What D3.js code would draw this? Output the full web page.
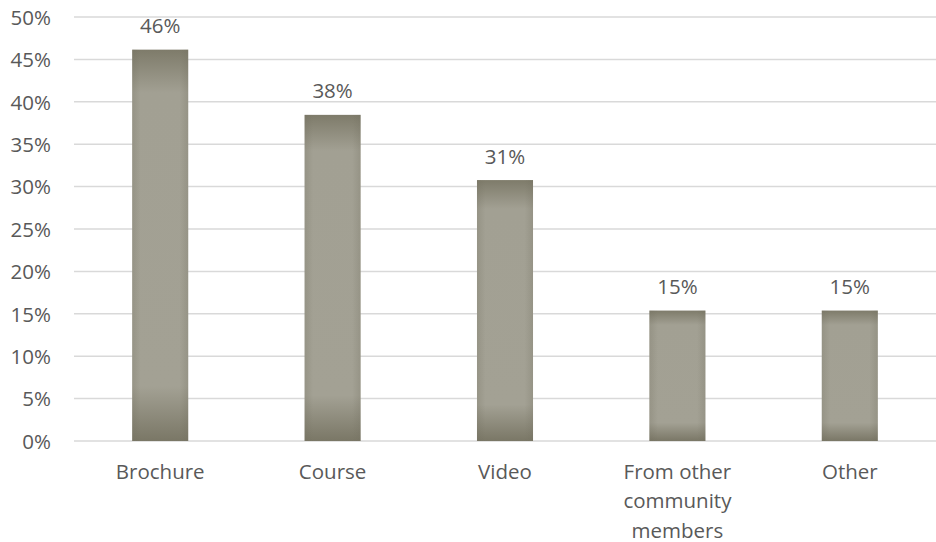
<!DOCTYPE html>
<html>
<head>
<meta charset="utf-8">
<script src="https://cdn.jsdelivr.net/npm/d3@7"></script>
<style>
  body { margin: 0; background: #fff; }
  text { font-family: "Open Sans", sans-serif; fill: #595959; }
</style>
</head>
<body>
<div id="chart"></div>
<script>
  // chart data
  var categories = ['Brochure', 'Course', 'Video', 'From other community members', 'Other'];
  var values = [46.15, 38.46, 30.77, 15.38, 15.38];
  var yTicks = [0, 5, 10, 15, 20, 25, 30, 35, 40, 45, 50];

  var w = 936,
    h = 542,
    fs = '20.5px',
    margin = { top: 17, right: 0, bottom: 101, left: 74 };

  var svg = d3.select('#chart')
    .append('svg')
    .attr('width', w)
    .attr('height', h);

  // bar fill: darker towards top and bottom edges
  var defs = svg.append('defs');
  var grad = defs.append('linearGradient')
    .attr('id', 'barGrad')
    .attr('x1', 0).attr('y1', 0).attr('x2', 0).attr('y2', 1);
  grad.append('stop').attr('offset', '0%').attr('stop-color', '#7e7b6a');
  grad.append('stop').attr('offset', '11%').attr('stop-color', '#a2a093');
  grad.append('stop').attr('offset', '86%').attr('stop-color', '#a3a194');
  grad.append('stop').attr('offset', '100%').attr('stop-color', '#7a7766');

  var side = defs.append('linearGradient')
    .attr('id', 'sideGrad')
    .attr('x1', 0).attr('y1', 0).attr('x2', 1).attr('y2', 0);
  side.append('stop').attr('offset', '0%').attr('stop-color', '#6f6c5c').attr('stop-opacity', 0.25);
  side.append('stop').attr('offset', '15%').attr('stop-color', '#6f6c5c').attr('stop-opacity', 0);
  side.append('stop').attr('offset', '85%').attr('stop-color', '#6f6c5c').attr('stop-opacity', 0);
  side.append('stop').attr('offset', '100%').attr('stop-color', '#6f6c5c').attr('stop-opacity', 0.25);

  var x = d3.scaleBand()
    .domain(categories)
    .range([margin.left, w - margin.right])
    .paddingInner(0.675)
    .paddingOuter(0.3375);

  var y = d3.scaleLinear()
    .domain([0, 50])
    .range([h - margin.bottom, margin.top]);

  // gridlines
  svg.append('g')
    .selectAll('line')
    .data(yTicks)
    .enter().append('line')
    .attr('x1', margin.left)
    .attr('x2', w - margin.right)
    .attr('y1', function(d) { return y(d); })
    .attr('y2', function(d) { return y(d); })
    .attr('stroke', '#d9d9d9')
    .attr('stroke-width', 1.5);

  // y axis labels
  var yAxis = d3.axisLeft(y)
    .tickValues(yTicks)
    .tickFormat(function(d) { return d + '%'; })
    .tickSize(0)
    .tickPadding(23);
  var gy = svg.append('g')
    .attr('transform', 'translate(' + margin.left + ',0)')
    .call(yAxis);
  gy.select('.domain').remove();
  gy.selectAll('text')
    .style('font-size', fs)
    .style('font-family', '"Open Sans", sans-serif')
    .attr('dy', '0.36em')
    .attr('fill', '#595959');

  // bars
  var bars = svg.append('g');
  bars.selectAll('rect.bar')
    .data(values)
    .enter().append('rect')
    .attr('class', 'bar')
    .attr('x', function(d, i) { return x(categories[i]); })
    .attr('y', function(d) { return y(d); })
    .attr('width', x.bandwidth())
    .attr('height', function(d) { return y(0) - y(d); })
    .attr('fill', 'url(#barGrad)');
  bars.selectAll('rect.side')
    .data(values)
    .enter().append('rect')
    .attr('class', 'side')
    .attr('x', function(d, i) { return x(categories[i]); })
    .attr('y', function(d) { return y(d); })
    .attr('width', x.bandwidth())
    .attr('height', function(d) { return y(0) - y(d); })
    .attr('fill', 'url(#sideGrad)');

  // data labels
  svg.append('g')
    .selectAll('text')
    .data(values)
    .enter().append('text')
    .attr('x', function(d, i) { return x(categories[i]) + x.bandwidth() / 2; })
    .attr('y', function(d) { return y(d) - 16.5; })
    .attr('text-anchor', 'middle')
    .style('font-size', fs)
    .text(function(d) { return Math.round(d) + '%'; });

  // category labels, wrapped
  var wrapped = {
    'From other community members': ['From other', 'community', 'members']
  };
  var xl = svg.append('g');
  categories.forEach(function(c) {
    var lines = wrapped[c] || [c];
    var t = xl.append('text')
      .attr('text-anchor', 'middle')
      .style('font-size', fs)
      .attr('x', x(c) + x.bandwidth() / 2)
      .attr('y', 478.5);
    lines.forEach(function(l, i) {
      t.append('tspan')
        .attr('x', x(c) + x.bandwidth() / 2)
        .attr('dy', i === 0 ? 0 : 29.5)
        .text(l);
    });
  });
</script>
</body>
</html>
